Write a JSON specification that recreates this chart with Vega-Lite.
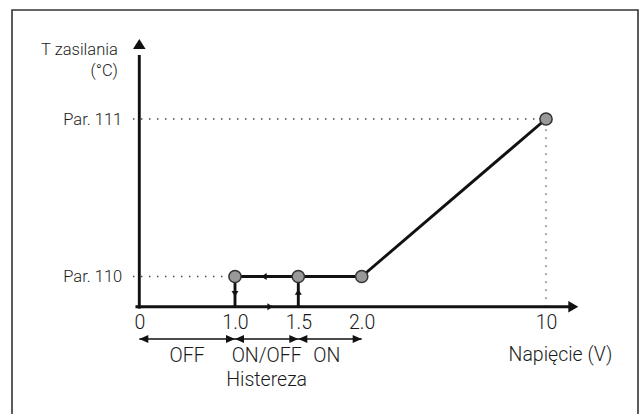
{
  "$schema": "https://vega.github.io/schema/vega-lite/v6.json",
  "width": 626,
  "height": 405,
  "autosize": {"type": "none"},
  "padding": {"left": 12, "top": 10, "right": 6, "bottom": 0},
  "background": "white",
  "view": {"stroke": "#333333", "strokeWidth": 1.6},
  "config": {"font": "Roboto"},
  "datasets": {
    "thick": [
      {"x": 0, "y": -0.06, "x2": 0, "y2": 111.8},
      {"x": -0.04, "y": 0, "x2": 10.9, "y2": 0},
      {"x": 1, "y": 110, "x2": 2, "y2": 110},
      {"x": 2, "y": 110, "x2": 10, "y2": 111},
      {"x": 1, "y": 0, "x2": 1, "y2": 110},
      {"x": 1.5, "y": 0, "x2": 1.5, "y2": 110}
    ],
    "dotted": [
      {"x": -0.065, "y": 111, "x2": 10, "y2": 111},
      {"x": -0.065, "y": 110, "x2": 1, "y2": 110},
      {"x": 10, "y": 0, "x2": 10, "y2": 111}
    ],
    "dimension": [
      {"x": 0, "y": -1, "x2": 2, "y2": -1}
    ],
    "bigHeads": [
      {"x": 0, "y": 112, "dir": "up"},
      {"x": 11, "y": 0, "dir": "right"}
    ],
    "smallHeads": [
      {"x": 1.206, "y": 110, "dir": "left"},
      {"x": 1.3, "y": 0, "dir": "right"},
      {"x": 1, "y": 37, "dir": "down"},
      {"x": 1.5, "y": 64, "dir": "up"}
    ],
    "dimHeads": [
      {"x": 0, "y": -1, "dir": "left"},
      {"x": 1, "y": -1, "dir": "right"},
      {"x": 1, "y": -1, "dir": "left"},
      {"x": 1.5, "y": -1, "dir": "right"},
      {"x": 1.5, "y": -1, "dir": "left"},
      {"x": 2, "y": -1, "dir": "right"}
    ],
    "points": [
      {"x": 1, "y": 110},
      {"x": 1.5, "y": 110},
      {"x": 2, "y": 110},
      {"x": 10, "y": 111}
    ],
    "labels": [
      {"x": 0.5, "y": -1.53, "label": "OFF"},
      {"x": 1.25, "y": -1.53, "label": "ON/OFF"},
      {"x": 1.724, "y": -1.53, "label": "ON"},
      {"x": 1.25, "y": -2.27, "label": "Histereza"}
    ]
  },
  "encoding": {
    "x": {
      "field": "x",
      "type": "quantitative",
      "scale": {"domain": [0, 1, 1.5, 2, 10, 11], "range": [127.3, 223, 286.3, 349.7, 534, 566.3], "zero": false, "nice": false, "clamp": false},
      "axis": {
        "values": [0, 1, 1.5, 2, 10],
        "labelExpr": "datum.value == 0 ? '0' : datum.value == 10 ? '10' : format(datum.value, '.1f')",
        "offset": -108.3,
        "domain": false,
        "ticks": false,
        "grid": false,
        "labelPadding": 6.8,
        "labelFontSize": 19.5,
        "labelFontWeight": 300,
        "labelColor": "#1a1a1a",
        "labelFlush": false,
        "labelOverlap": false,
        "title": "Napięcie (V)",
        "titleX": 548,
        "titleY": 38.5,
        "titleAlign": "center",
        "titleBaseline": "top",
        "titleFontSize": 19.5,
        "titleFontWeight": 300,
        "titleColor": "#1a1a1a"
      }
    },
    "y": {
      "field": "y",
      "type": "quantitative",
      "scale": {"domain": [-1, 0, 110, 111, 112], "range": [329, 296.7, 266.5, 109, 29], "zero": false, "nice": false, "clamp": false},
      "axis": {
        "values": [110, 111],
        "labelExpr": "datum.value == 110 ? 'Par. 110' : 'Par. 111'",
        "offset": -127.3,
        "domain": false,
        "ticks": false,
        "grid": false,
        "labelPadding": 17.6,
        "labelFontSize": 16.5,
        "labelFontWeight": 300,
        "labelColor": "#1a1a1a",
        "labelFlush": false,
        "labelOverlap": false,
        "title": ["T zasilania", "(°C)"],
        "titleAngle": 0,
        "titleAlign": "right",
        "titleBaseline": "top",
        "titleX": -22,
        "titleY": 31,
        "titleFontSize": 16.5,
        "titleFontWeight": 300,
        "titleLineHeight": 21,
        "titleColor": "#1a1a1a"
      }
    }
  },
  "layer": [
    {
      "data": {"name": "dotted"},
      "mark": {"type": "rule", "color": "#333333", "strokeWidth": 1.3, "strokeDash": [1.3, 6.7]},
      "encoding": {"x2": {"field": "x2"}, "y2": {"field": "y2"}}
    },
    {
      "data": {"name": "dimension"},
      "mark": {"type": "rule", "color": "#111111", "strokeWidth": 1.6},
      "encoding": {"x2": {"field": "x2"}, "y2": {"field": "y2"}}
    },
    {
      "data": {"name": "thick"},
      "mark": {"type": "rule", "color": "#111111", "strokeWidth": 2.9},
      "encoding": {"x2": {"field": "x2"}, "y2": {"field": "y2"}}
    },
    {
      "data": {"name": "bigHeads"},
      "mark": {"type": "point", "filled": true, "opacity": 1, "color": "#111111", "size": 110, "strokeWidth": 0},
      "encoding": {
        "shape": {"field": "dir", "type": "nominal", "legend": null,
          "scale": {"domain": ["up", "right"], "range": ["M0,0L-1.2,1.9L1.2,1.9Z", "M0,0L-1.9,-1.1L-1.9,1.1Z"]}}
      }
    },
    {
      "data": {"name": "smallHeads"},
      "mark": {"type": "point", "filled": true, "opacity": 1, "color": "#111111", "size": 49, "strokeWidth": 0},
      "encoding": {
        "shape": {"field": "dir", "type": "nominal", "legend": null,
          "scale": {"domain": ["left", "right", "up", "down"], "range": ["M0,0L1.6,-1L1.6,1Z", "M0,0L-1.6,-1L-1.6,1Z", "M0,0L-1,1.6L1,1.6Z", "M0,0L-1,-1.6L1,-1.6Z"]}}
      }
    },
    {
      "data": {"name": "dimHeads"},
      "mark": {"type": "point", "filled": true, "opacity": 1, "color": "#111111", "size": 81, "strokeWidth": 0},
      "encoding": {
        "shape": {"field": "dir", "type": "nominal", "legend": null,
          "scale": {"domain": ["left", "right"], "range": ["M0,0L2,-0.9L2,0.9Z", "M0,0L-2,-0.9L-2,0.9Z"]}}
      }
    },
    {
      "data": {"name": "points"},
      "mark": {"type": "point", "shape": "circle", "filled": true, "opacity": 1, "fill": "#999999", "stroke": "#333333", "strokeWidth": 1.5, "size": 150}
    },
    {
      "data": {"name": "labels"},
      "mark": {"type": "text", "fontSize": 19.5, "fontWeight": 300, "color": "#1a1a1a", "align": "center", "baseline": "middle"},
      "encoding": {"text": {"field": "label"}}
    }
  ],
  "resolve": {"scale": {"shape": "independent"}}
}
